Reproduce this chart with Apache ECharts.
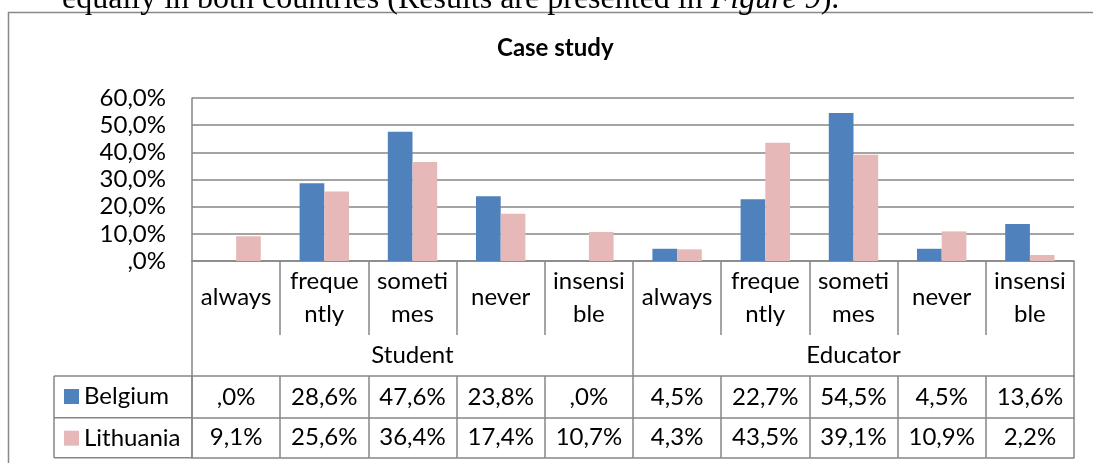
<!DOCTYPE html>
<html>
<head>
<meta charset="utf-8">
<script src="https://cdn.jsdelivr.net/npm/echarts@6/dist/echarts.min.js"></script>
<style>
  html, body { margin: 0; padding: 0; background: #fff; }
  #chart { width: 1093px; height: 463px; }
</style>
</head>
<body>
<div id="chart"></div>
<script>
// ---- data ----
const groups = ['Student', 'Educator'];
const answers = ['always', 'freque\nntly', 'someti\nmes', 'never', 'insensi\nble'];
const seriesNames = ['Belgium', 'Lithuania'];
const belgium = [0, 28.6, 47.6, 23.8, 0, 4.5, 22.7, 54.5, 4.5, 13.6];
const lithuania = [9.1, 25.6, 36.4, 17.4, 10.7, 4.3, 43.5, 39.1, 10.9, 2.2];
const yMin = 0, yMax = 60, yStep = 10;

// ---- helpers ----
const categories = [];
groups.forEach(g => answers.forEach(a => categories.push(g + '|' + a)));
function pct(v) {
  let s = v.toFixed(1).replace('.', ',');
  if (s.startsWith('0,')) s = s.slice(1);
  return s + '%';
}
const FONT = 'Lato';
const GRID_C = '#868686';
const lbl = { fontFamily: FONT, fontSize: 24, color: '#000' };
const ln = { color: GRID_C, width: 1.5 };

const chart = echarts.init(document.getElementById('chart'), null, { renderer: 'canvas' });
const option = {
  animation: false,
  backgroundColor: '#fff',
  title: {
    text: 'Case study',
    left: 497, top: 36,
    padding: 0,
    textStyle: { fontFamily: FONT, fontSize: 24, fontWeight: 'bold', color: '#000' }
  },
  legend: {
    data: seriesNames,
    orient: 'vertical',
    left: 64, top: 383.5,
    padding: 0,
    itemWidth: 15, itemHeight: 15,
    itemGap: 15.7,
    icon: 'rect',
    selectedMode: false,
    textStyle: Object.assign({ lineHeight: 26 }, lbl)
  },
  grid: { left: 192, right: 19, top: 98, height: 163, containLabel: false, outerBoundsMode: 'none' },
  yAxis: {
    type: 'value', min: yMin, max: yMax, interval: yStep,
    axisLine: { show: true, onZero: false, lineStyle: ln },
    axisTick: { show: false },
    splitLine: { show: true, lineStyle: ln },
    axisLabel: Object.assign({ margin: 26, formatter: v => pct(v) }, lbl)
  },
  xAxis: [
    {
      type: 'category', data: categories, position: 'bottom',
      axisLine: { show: true, lineStyle: ln },
      axisTick: { show: true, interval: 0, length: 74, lineStyle: ln },
      splitLine: { show: false },
      axisLabel: Object.assign({ show: true, interval: 0, margin: 36.5, verticalAlign: 'middle', lineHeight: 33,
        formatter: (v, i) => answers[i % answers.length] }, lbl)
    },
    {
      type: 'category', data: groups, position: 'bottom',
      axisLine: { show: false },
      axisTick: { show: true, interval: 0, length: 115, lineStyle: ln },
      axisLabel: Object.assign({ show: true, interval: 0, margin: 94, verticalAlign: 'middle' }, lbl)
    },
    {
      type: 'category', data: categories, position: 'bottom', offset: 115,
      axisLine: { show: true, lineStyle: ln },
      axisTick: { show: true, interval: 0, length: 82, lineStyle: ln },
      axisLabel: Object.assign({ show: true, interval: 0, margin: 21, verticalAlign: 'middle',
        formatter: (v, i) => pct(belgium[i]) }, lbl)
    },
    {
      type: 'category', data: categories, position: 'bottom', offset: 156.7,
      axisLine: { show: true, lineStyle: ln },
      axisTick: { show: false },
      axisLabel: Object.assign({ show: true, interval: 0, margin: 20, verticalAlign: 'middle',
        formatter: (v, i) => pct(lithuania[i]) }, lbl)
    },
    {
      type: 'category', data: categories, position: 'bottom', offset: 196.7,
      axisLine: { show: true, lineStyle: ln },
      axisTick: { show: false },
      axisLabel: { show: false }
    }
  ],
  series: [
    {
      name: seriesNames[0], type: 'bar', xAxisIndex: 0, data: belgium,
      barGap: '0%', barCategoryGap: '44%',
      itemStyle: { color: '#4F81BD' }
    },
    {
      name: seriesNames[1], type: 'bar', xAxisIndex: 0, data: lithuania,
      barGap: '0%', barCategoryGap: '44%',
      itemStyle: { color: '#E6B9B8' }
    }
  ],
  graphic: [
    { type: 'rect', silent: true, z: 0,
      shape: { x: 8.5, y: 12.5, width: 1300, height: 700 },
      style: { fill: 'none', stroke: '#888', lineWidth: 1.5 } },
    { type: 'text', silent: true, x: 62, y: 0,
      style: {
        text: 'equally in both countries (Results are presented in {i|Figure 9}).',
        fontFamily: 'Liberation Serif', fontSize: 32, fill: '#000',
        verticalAlign: 'middle',
        rich: { i: { fontStyle: 'italic', fontFamily: 'Liberation Serif', fontSize: 32, fill: '#000' } }
      } },
    // legend column of the data table
    { type: 'line', silent: true, shape: { x1: 54, y1: 376, x2: 192, y2: 376 }, style: { stroke: GRID_C, lineWidth: 1.5 } },
    { type: 'line', silent: true, shape: { x1: 54, y1: 417.7, x2: 192, y2: 417.7 }, style: { stroke: GRID_C, lineWidth: 1.5 } },
    { type: 'line', silent: true, shape: { x1: 54, y1: 457.7, x2: 192, y2: 457.7 }, style: { stroke: GRID_C, lineWidth: 1.5 } },
    { type: 'line', silent: true, shape: { x1: 54, y1: 376, x2: 54, y2: 457.7 }, style: { stroke: GRID_C, lineWidth: 1.5 } },
    { type: 'line', silent: true, shape: { x1: 192, y1: 376, x2: 192, y2: 457.7 }, style: { stroke: GRID_C, lineWidth: 1.5 } }
  ]
};
chart.setOption(option);
</script>
</body>
</html>
